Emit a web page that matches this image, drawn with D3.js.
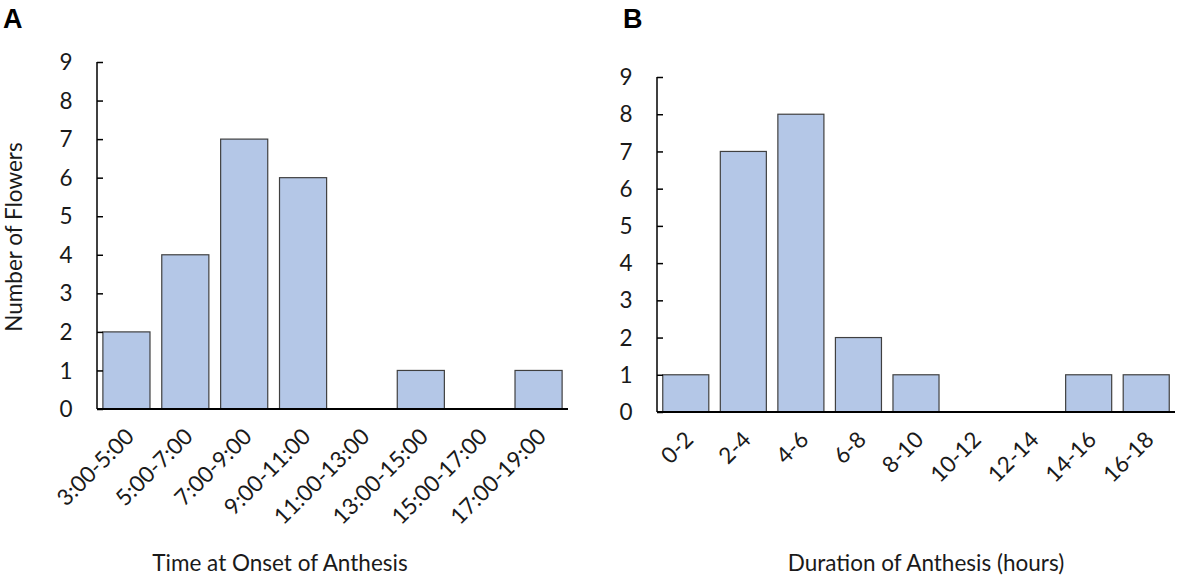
<!DOCTYPE html>
<html>
<head>
<meta charset="utf-8">
<script src="https://cdnjs.cloudflare.com/ajax/libs/d3/7.8.5/d3.min.js"></script>
<style>
    body { margin: 0; background: #fff; }
    svg text { font-family: Lato, "Open Sans", sans-serif; fill: #1a1a1a; }
</style>
</head>
<body>
<svg id="chart" width="1181" height="576"></svg>
<script>
// Panel A: time at onset of anthesis
var ONSET_CATEGORIES = ["3:00-5:00", "5:00-7:00", "7:00-9:00", "9:00-11:00",
    "11:00-13:00", "13:00-15:00", "15:00-17:00", "17:00-19:00"];
var ONSET_COUNTS = [2, 4, 7, 6, 0, 1, 0, 1];

// Panel B: duration of anthesis
var DURATION_CATEGORIES = ["0-2", "2-4", "4-6", "6-8", "8-10", "10-12", "12-14", "14-16", "16-18"];
var DURATION_COUNTS = [1, 7, 8, 2, 1, 0, 0, 1, 1];

var Y_TICKS = [0, 1, 2, 3, 4, 5, 6, 7, 8, 9];

var BAR_FILL = "#b4c7e7";
var BAR_STROKE = "#404040";
var FONT_SIZE = 22.5;

var svg = d3.select("#chart");

function drawPanel(cfg) {
    var g = svg.append("g");
    var rows = cfg.categories.map((c, i) => ({ cat: c, n: cfg.counts[i] }));

    var xScale = d3.scaleBand()
        .domain(cfg.categories)
        .range([cfg.left, cfg.right])
        .paddingInner(0.2)
        .paddingOuter(0.1);

    var yScale = d3.scaleLinear()
        .domain([0, 9])
        .range([cfg.bottom, cfg.top]);

    // bars (empty bins draw nothing)
    g.selectAll(".bar")
        .data(rows.filter(d => d.n > 0))
        .enter()
        .append("rect")
        .attr("class", "bar")
        .attr("x", d => xScale(d.cat))
        .attr("y", d => yScale(d.n))
        .attr("width", xScale.bandwidth())
        .attr("height", d => yScale(0) - yScale(d.n))
        .attr("fill", BAR_FILL)
        .attr("stroke", BAR_STROKE)
        .attr("stroke-width", 1.2);

    // y axis, ticks pointing inward
    var yAxis = d3.axisRight(yScale)
        .tickValues(Y_TICKS)
        .tickSize(6)
        .tickFormat("");
    var yg = g.append("g")
        .attr("transform", "translate(" + cfg.left + ",0)")
        .call(yAxis);
    yg.select(".domain").attr("d", "M0," + cfg.top + "V" + cfg.bottom);
    yg.selectAll("line, path").attr("stroke", "#000").attr("stroke-width", 1.5);

    g.selectAll(".ylabel")
        .data(Y_TICKS)
        .enter()
        .append("text")
        .attr("class", "ylabel")
        .attr("x", cfg.left - 31)
        .attr("y", d => yScale(d))
        .attr("dy", "0.36em")
        .attr("text-anchor", "middle")
        .style("font-size", FONT_SIZE + "px")
        .text(d => d);

    // x baseline
    var xAxis = d3.axisBottom(xScale).tickSize(0).tickFormat("");
    var xg = g.append("g")
        .attr("transform", "translate(0," + cfg.bottom + ")")
        .call(xAxis);
    xg.select(".domain").attr("d", "M" + cfg.left + ",0H" + cfg.right)
        .attr("stroke", "#000").attr("stroke-width", 2);

    // rotated category labels
    g.selectAll(".xlabel")
        .data(cfg.categories)
        .enter()
        .append("text")
        .attr("class", "xlabel")
        .attr("text-anchor", "end")
        .style("font-size", FONT_SIZE + "px")
        .attr("transform", d => "translate(" + (xScale(d) + xScale.bandwidth() / 2 + 9) + "," + (cfg.bottom + 29) + ") rotate(-45)")
        .text(d => d);

    // axis title
    g.append("text")
        .attr("x", cfg.titleX)
        .attr("y", 571)
        .attr("text-anchor", "middle")
        .style("font-size", FONT_SIZE + "px")
        .text(cfg.title);

    // panel letter
    svg.append("text")
        .attr("x", cfg.letterX)
        .attr("y", 28)
        .style("font-family", "Arial, 'Liberation Sans', sans-serif")
        .style("font-weight", "bold")
        .style("font-size", "27px")
        .style("fill", "#000")
        .text(cfg.letter);
}

drawPanel({
    categories: ONSET_CATEGORIES,
    counts: ONSET_COUNTS,
    left: 97, right: 568, top: 62, bottom: 409,
    title: "Time at Onset of Anthesis", titleX: 280,
    letter: "A", letterX: 3
});

drawPanel({
    categories: DURATION_CATEGORIES,
    counts: DURATION_COUNTS,
    left: 657, right: 1175, top: 77, bottom: 412,
    title: "Duration of Anthesis (hours)", titleX: 926,
    letter: "B", letterX: 623
});

// y title (left panel only)
svg.append("text")
    .attr("transform", "translate(22,237) rotate(-90)")
    .attr("text-anchor", "middle")
    .style("font-size", FONT_SIZE + "px")
    .text("Number of Flowers");
</script>
</body>
</html>
